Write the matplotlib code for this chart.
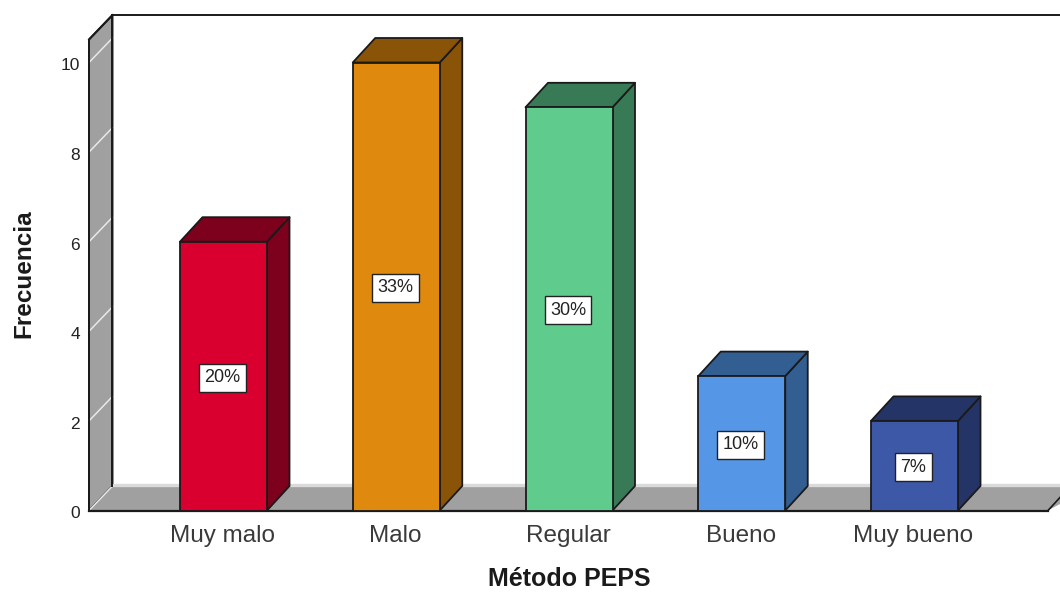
import matplotlib
matplotlib.use('Agg')
import matplotlib.pyplot as plt
from matplotlib.patches import Polygon

categories = ['Muy malo', 'Malo', 'Regular', 'Bueno', 'Muy bueno']
counts = [6, 10, 9, 3, 2]
percent_labels = ['20%', '33%', '30%', '10%', '7%']
front_colors = ['#d9002f', '#e0890f', '#5fcb8c', '#5596e6', '#3e58a8']
side_colors = ['#7d001c', '#8a5408', '#387a55', '#335e92', '#253467']
y_ticks = [0, 2, 4, 6, 8, 10]

plt.rcParams['font.family'] = ['Liberation Sans', 'DejaVu Sans']

W, H = 1060, 592
x0_px, x_step = 223.5, 172.75
y0_px, y_step = 510.5, 44.8

fig = plt.figure(figsize=(W / 100, H / 100), dpi=100)
ax = fig.add_axes([0, 0, 1, 1])
ax.set_xlim(-x0_px / x_step, (W - x0_px) / x_step)
ax.set_ylim((y0_px - H) / y_step, y0_px / y_step)
ax.axis('off')

# 3d offset of the box, in data units
dx = 22.5 / x_step
wall_dx = 23.5 / x_step
dy = 24.5 / y_step
bar_w = 87 / x_step
left = (89 - x0_px) / x_step
right = (1048 - x0_px) / x_step
top = (y0_px - 39.5) / y_step
edge = '#1a1a1a'
wall = '#a0a0a0'

# side wall and floor
ax.add_patch(Polygon([(left, 0), (left + wall_dx, dy), (left + wall_dx, top + dy), (left, top)],
                     fc=wall, ec=edge, lw=1.4, zorder=1))
ax.add_patch(Polygon([(left, 0), (left + wall_dx, dy), (right + 2 * dx, dy), (right, 0)],
                     fc=wall, ec='none', zorder=1))
ax.plot([left + wall_dx, right + 2 * dx], [dy + 1 / y_step, dy + 1 / y_step], color='#dadada', lw=2.4,
        solid_capstyle='butt', zorder=1.5)
ax.plot([right, right + dx], [0, dy], color=edge, lw=1.2, zorder=1.5)
ax.plot([left + wall_dx, left + wall_dx], [dy, top + dy], color=edge, lw=1.4, zorder=2)
ax.plot([left + wall_dx, right + 2 * dx], [top + dy, top + dy], color=edge, lw=1.4, zorder=2)
ax.plot([left, left + wall_dx], [top, top + dy], color=edge, lw=1.4, zorder=2)
ax.plot([left, left], [0, top], color=edge, lw=1.4, zorder=2)

# gridlines on the wall, white diagonals
for t in y_ticks:
    ax.plot([left, left + wall_dx], [t, t + dy], color='#e8e8e8', lw=1.1, zorder=1.8)
    ax.text(left - 9 / x_step, t - 3.5 / y_step, str(t), ha='right', va='center', fontsize=12.5,
            color='#222222')

ax.plot([left, right], [0, 0], color=edge, lw=1.6, zorder=2)

for i, (name, v) in enumerate(zip(categories, counts)):
    l, r = i - bar_w / 2, i + bar_w / 2
    ax.add_patch(Polygon([(r, 0), (r + dx, dy), (r + dx, v + dy), (r, v)],
                         fc=side_colors[i], ec=edge, lw=1.3, joinstyle='round', zorder=3))
    ax.add_patch(Polygon([(l, v), (l + dx, v + dy), (r + dx, v + dy), (r, v)],
                         fc=side_colors[i], ec=edge, lw=1.3, joinstyle='round', zorder=3))
    ax.bar(i, v, width=bar_w, color=front_colors[i], edgecolor=edge, linewidth=1.3, zorder=4)
    ax.text(i - 1 / x_step, v / 2 - 1.5 / y_step, percent_labels[i], ha='center', va='center', fontsize=13,
            color='#222222', zorder=5,
            bbox=dict(boxstyle='square,pad=0.3', fc='white', ec='#222222', lw=1))
    ax.text(i - 1 / x_step, (y0_px - 542) / y_step, name, ha='center', va='baseline', fontsize=17.5,
            color='#3a3a3a')

ax.text((569 - x0_px) / x_step, (y0_px - 586) / y_step, 'Método PEPS', ha='center', va='baseline',
        fontsize=18, fontweight='bold', color='#1a1a1a')
ax.text((24 - x0_px) / x_step, (y0_px - 274) / y_step, 'Frecuencia', rotation=90, ha='center',
        va='center', fontsize=17.5, fontweight='bold', color='#1a1a1a')

fig.savefig('out.png', dpi=100)
